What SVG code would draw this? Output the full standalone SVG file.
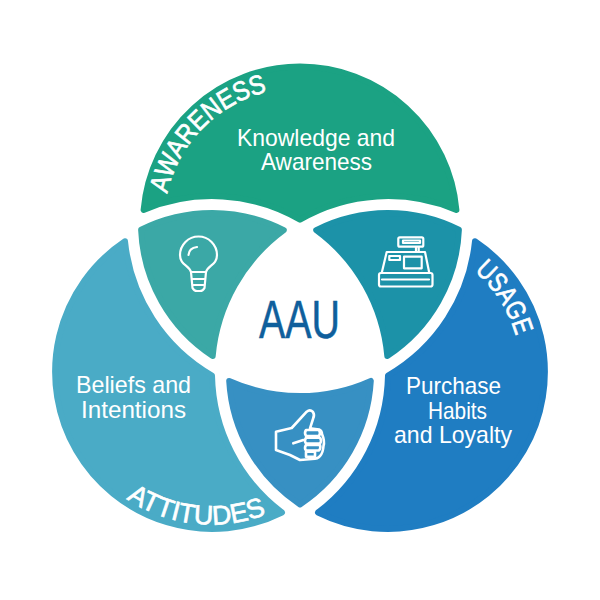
<svg xmlns="http://www.w3.org/2000/svg" width="600" height="600" viewBox="0 0 600 600">
<style>
.r{stroke-width:6;stroke-linejoin:round}
.i{fill:none;stroke:#fff;stroke-width:2.2;stroke-linejoin:round;stroke-linecap:round}
text{font-family:"Liberation Sans Narrow","Liberation Sans",Arial,sans-serif;fill:#fff;font-size:24px}
.c{font-size:27px;stroke:#fff;stroke-width:.7}
</style>
<defs>
<path id="pAw" d="M167.3,193.6A135,135 0 0 1 300,88"/>
<path id="pAt" d="M126.5,498.8A152,152 0 0 0 309.7,488.4"/>
<path id="pUs" d="M474.4,271.3A133,133 0 0 1 521,372"/>
</defs>
<rect width="600" height="600" fill="#fff"/>
<g id="awareness">
<path class="r" fill="#1BA283" stroke="#1BA283" d="M143.6,209.9A157,157 0 0 1 456.4,209.9A176,176 0 0 0 300,219.6A176,176 0 0 0 143.6,209.9Z"/>
<text class="c" textLength="150" lengthAdjust="spacingAndGlyphs"><textPath href="#pAw">AWARENESS</textPath></text>
<text x="237" y="146" textLength="158" lengthAdjust="spacingAndGlyphs">Knowledge and</text>
<text x="261" y="170" textLength="111" lengthAdjust="spacingAndGlyphs">Awareness</text>
</g>
<g id="attitudes">
<path class="r" fill="#4AABC6" stroke="#4AABC6" d="M125,241.3A157,157 0 0 0 282,512.5A176,176 0 0 1 212,375.5A176,176 0 0 1 125,241.3Z"/>
<text class="c" textLength="146" lengthAdjust="spacingAndGlyphs"><textPath href="#pAt">ATTITUDES</textPath></text>
<text x="76" y="393" textLength="115" lengthAdjust="spacingAndGlyphs">Beliefs and</text>
<text x="81" y="418" textLength="105" lengthAdjust="spacingAndGlyphs">Intentions</text>
</g>
<g id="usage">
<path class="r" fill="#1F7DC2" stroke="#1F7DC2" d="M475,241.3A157,157 0 0 1 318,512.5A176,176 0 0 0 388,375.5A176,176 0 0 0 475,241.3Z"/>
<text class="c" textLength="78" lengthAdjust="spacingAndGlyphs"><textPath href="#pUs">USAGE</textPath></text>
<text x="406" y="394" textLength="95" lengthAdjust="spacingAndGlyphs">Purchase</text>
<text x="428" y="419" textLength="59" lengthAdjust="spacingAndGlyphs">Habits</text>
<text x="394" y="443" textLength="118" lengthAdjust="spacingAndGlyphs">and Loyalty</text>
</g>
<g id="lens-bulb">
<path class="r" fill="#3BA8A6" stroke="#3BA8A6" d="M141.1,229.7A159,159 0 0 1 283.8,230.1A176,176 0 0 0 212.7,355.9A159,159 0 0 1 141.1,229.7Z"/>
<g class="i">
<path d="M191,272C189,265 180,265 180,255A18.5,18.5 0 1 1 217,255C217,265 208,265 206,272L204.5,288Q203,291 200,291L197,291Q194,291 192.5,288Z"/>
<path d="M191,272H206M192,279H205M193.5,285H203.5M188.5,255Q189,248 197,247"/>
</g>
</g>
<g id="lens-register">
<path class="r" fill="#1C92A8" stroke="#1C92A8" d="M458.9,229.7A159,159 0 0 0 316.2,230.1A176,176 0 0 1 387.3,355.9A159,159 0 0 0 458.9,229.7Z"/>
<g class="i">
<rect x="398.3" y="237.3" width="25" height="9.4" rx="1.5"/>
<path d="M403,240.5H420V243H403ZM416,247V252M418.7,247V252"/>
<path d="M386.7,252H425L429.3,273H381.7Z"/>
<rect x="379" y="273" width="53.5" height="13.5" rx="2"/>
<path d="M382,279.5H429"/>
<rect x="389.3" y="256" width="10.7" height="4"/>
<rect x="404" y="256.7" width="17.7" height="11.6"/>
</g>
</g>
<g id="lens-thumb">
<path class="r" fill="#3790C3" stroke="#3790C3" d="M229.2,380.9A173,173 0 0 0 370.8,380.9A159,159 0 0 1 300,504.4A159,159 0 0 1 229.2,380.9Z"/>
<g class="i" style="stroke-width:2.6">
<path d="M276,431.7L291.7,428L306.7,411.7Q310,409 313,412Q315,415 313,419L310,428.3L319,429.5Q322,431 322,434Q325,441 323.5,446Q323,453 320,456Q318,459 312,459L300,460L290,455L276,450Z"/>
<path d="M293.3,443.3L303.3,440M306,430H319Q321,433 319,436H306Q304,433 306,430ZM306,437.7H320Q322,440.5 320,443.5H306Q304,440.5 306,437.7ZM306,445H320Q321,448 319,450.5H306Q304,448 306,445ZM306,451.7H315V456.7H306Z"/>
</g>
</g>
<g id="center">
<text x="259" y="338" textLength="81" lengthAdjust="spacingAndGlyphs" style="font-size:53px;fill:#0F5F9C;stroke:#0F5F9C;stroke-width:.5">AAU</text>
</g>
<g id="connectors"/>
</svg>
